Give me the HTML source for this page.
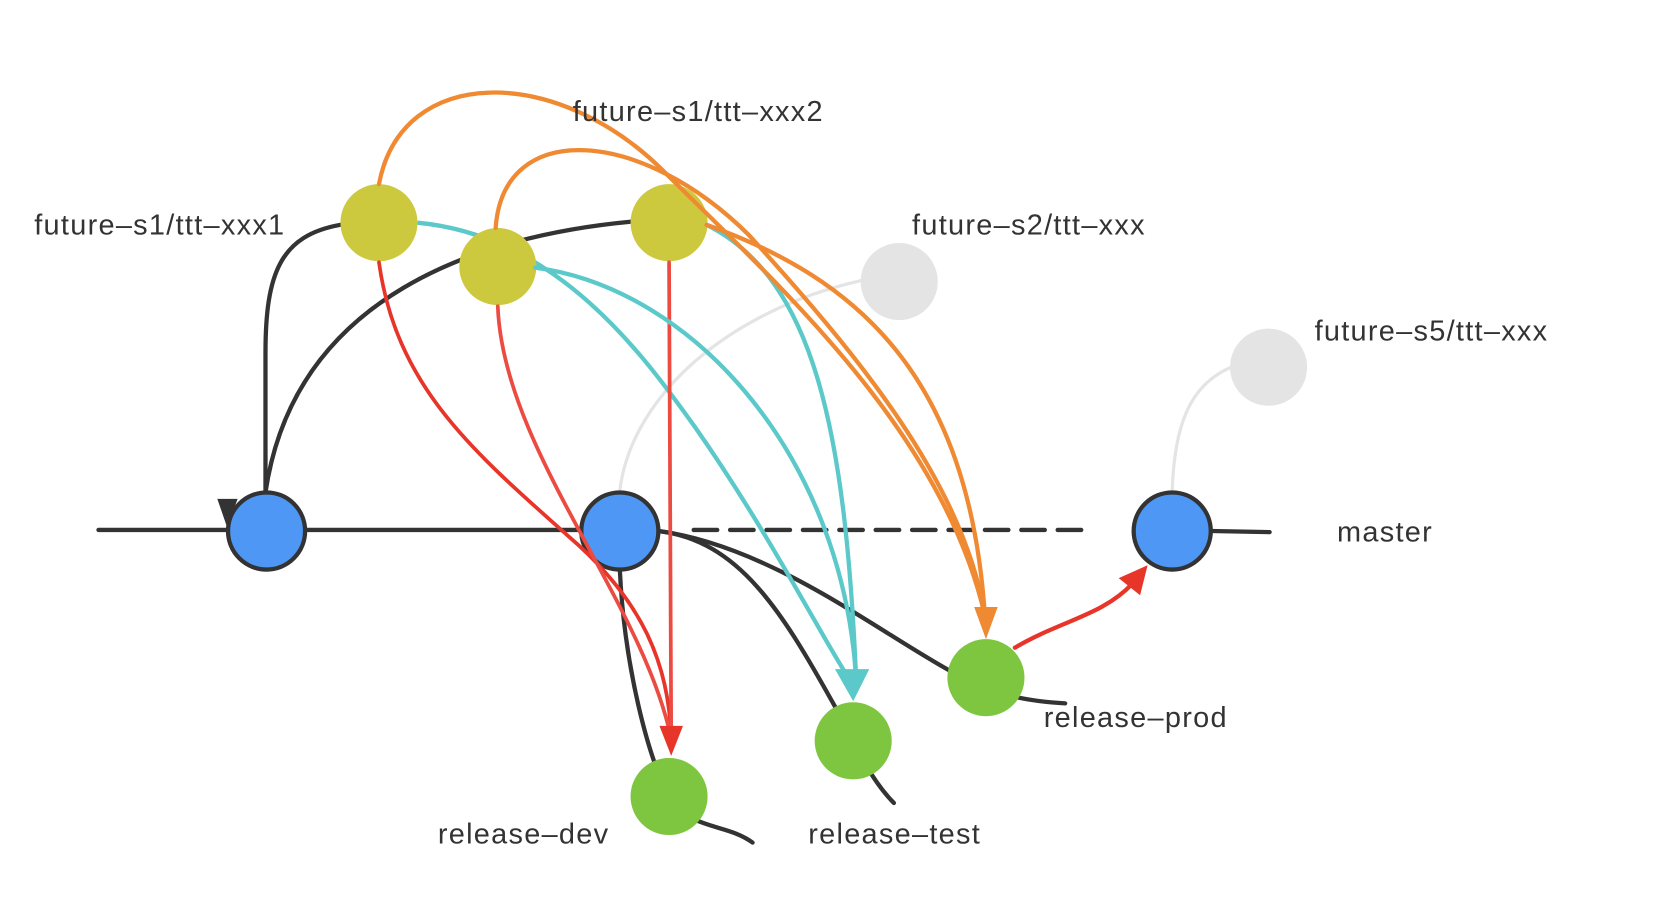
<!DOCTYPE html>
<html><head><meta charset="utf-8"><style>html,body{margin:0;padding:0;background:#fff;overflow:hidden}svg{display:block}</style></head>
<body>
<svg width="1670" height="910" viewBox="0 0 1560 850" preserveAspectRatio="none" xmlns="http://www.w3.org/2000/svg">
<g fill="none" stroke-linecap="round">
<path d="M805,262 C680,290 590,370 579,458" stroke="#e4e4e4" stroke-width="3"/>
<path d="M1150,343 C1110,360 1097,400 1095,458" stroke="#e4e4e4" stroke-width="3"/>
<path d="M92,495 L543,495" stroke="#333" stroke-width="4"/>
<path d="M648,495 L1018,495" stroke="#333" stroke-width="4" stroke-dasharray="22,12"/>
<path d="M1132,496 L1186,497" stroke="#333" stroke-width="4"/>
<path d="M318,210 C262,220 248,255 248,330 L248,460" stroke="#333" stroke-width="4"/>
<path d="M590,207 C450,220 275,275 248,460" stroke="#333" stroke-width="4"/>
<path d="M579,532 C583,620 605,710 628,750 C650,775 680,770 703,787" stroke="#333" stroke-width="4"/>
<path d="M615,496 C690,505 730,570 780,660 C800,700 815,730 835,750" stroke="#333" stroke-width="4"/>
<path d="M615,496 C720,510 820,590 890,628 C930,650 960,655 995,657" stroke="#333" stroke-width="4"/>
</g>
<polygon points="203,466 222,466 212,492" fill="#333"/>
<circle cx="840" cy="263" r="36" fill="#e4e4e4"/>
<circle cx="1185" cy="343" r="36" fill="#e4e4e4"/>
<g fill="#4e97f4" stroke="#333" stroke-width="4">
<circle cx="249" cy="496" r="36"/>
<circle cx="579" cy="496" r="36"/>
<circle cx="1095" cy="496" r="36"/>
</g>
<g fill="#cdc93f">
<circle cx="354" cy="208" r="36"/>
<circle cx="625" cy="208" r="36"/>
</g>
<g fill="#7fc640">
<circle cx="625" cy="744" r="36"/>
<circle cx="797" cy="692" r="36"/>
<circle cx="921" cy="633" r="36"/>
</g>
<path d="M390,208 C520,220 600,330 650,400 C720,500 770,600 797,640" fill="none" stroke="#5bc9c9" stroke-width="4"/>
<circle cx="465" cy="249" r="36" fill="#cdc93f"/>
<g fill="none" stroke-linecap="round">
<path d="M354,245 C370,360 440,420 530,500 C600,560 625,620 627,690" stroke="#e8352a" stroke-width="3.5"/>
<path d="M465,286 C470,420 600,560 627,690" stroke="#ec4b42" stroke-width="3.5"/>
<path d="M625,245 L627,690" stroke="#ec4b42" stroke-width="3.5"/>
<path d="M500,250 C650,270 790,430 800,640" stroke="#5bc9c9" stroke-width="4"/>
<path d="M660,210 C760,260 790,400 800,640" stroke="#5bc9c9" stroke-width="4"/>
<path d="M354,172 C375,60 520,60 620,160 C720,260 880,400 920,575" stroke="#ef8a33" stroke-width="4"/>
<path d="M463,213 C470,110 600,120 700,220 C800,330 900,450 920,575" stroke="#ef8a33" stroke-width="4"/>
<path d="M660,210 C800,260 905,350 920,575" stroke="#ef8a33" stroke-width="4"/>
<path d="M948,605 C990,580 1030,575 1058,545" stroke="#e8352a" stroke-width="4"/>
</g>
<polygon points="616,678 638,678 627,706" fill="#e8352a"/>
<polygon points="780,625 812,625 797,655" fill="#5bc9c9"/>
<polygon points="910,567 932,567 921,597" fill="#ef8a33"/>
<polygon points="1045,540 1072,528 1065,556" fill="#e8352a"/>
<g font-family="Liberation Sans, sans-serif" font-size="27" fill="#333" letter-spacing="1.2">
<text x="535" y="113">future–s1/ttt–xxx2</text>
<text x="32" y="219">future–s1/ttt–xxx1</text>
<text x="852" y="219">future–s2/ttt–xxx</text>
<text x="1228" y="318">future–s5/ttt–xxx</text>
<text x="1249" y="506">master</text>
<text x="975" y="679">release–prod</text>
<text x="409" y="788">release–dev</text>
<text x="755" y="788">release–test</text>
</g>
</svg>
</body></html>
